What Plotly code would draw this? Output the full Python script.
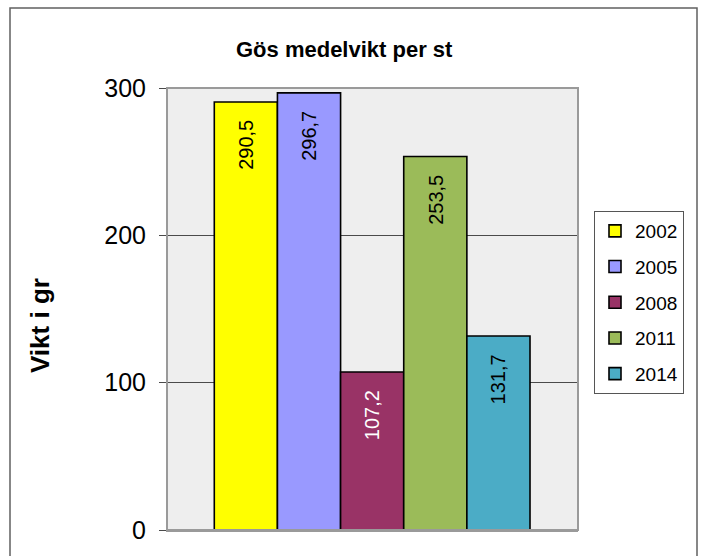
import plotly.graph_objects as go

# Average weight per fish (grams) by survey year
years = ["2002", "2005", "2008", "2011", "2014"]
weights = [290.5, 296.7, 107.2, 253.5, 131.7]
colors = ["#FFFF00", "#9999FF", "#993366", "#9BBB59", "#4BACC6"]
label_colors = ["black", "black", "white", "black", "black"]
y_ticks = [0, 100, 200, 300]

FONT = "Liberation Sans, Arial, sans-serif"

fig = go.Figure()
for i, (yr, w, c) in enumerate(zip(years, weights, colors)):
    fig.add_trace(go.Bar(
        x=[i], y=[w], width=1, name=yr, legendgroup=yr,
        marker=dict(color=c, line=dict(color="black", width=1.6)),
        hoverinfo="y",
    ))

# value labels, rotated, just inside the top of each bar
annotations = []
for i, (w, tc) in enumerate(zip(weights, label_colors)):
    annotations.append(dict(
        x=i, y=w, xref="x", yref="y", yshift=-43,
        text=f"{w:.1f}".replace(".", ","), showarrow=False,
        textangle=-90, yanchor="middle", xanchor="center",
        font=dict(family=FONT, size=20, color=tc),
    ))

annotations.append(dict(
    x=(344 - 167) / 411, y=(530 - 49) / 442, xref="paper", yref="paper",
    text="<b>Gös medelvikt per st</b>", showarrow=False,
    xanchor="center", yanchor="middle",
    font=dict(family=FONT, size=22, color="black"),
))
annotations.append(dict(
    x=(40 - 167) / 411, y=(530 - 326) / 442, xref="paper", yref="paper",
    text="<b>Vikt i gr</b>", showarrow=False, textangle=-90,
    xanchor="center", yanchor="middle",
    font=dict(family=FONT, size=26, color="black"),
))

shapes = [
    # plot area frame
    dict(type="rect", xref="paper", yref="paper", x0=0, y0=0, x1=1, y1=1,
         line=dict(color="#9A9A9A", width=2), layer="above"),
    # chart border
    dict(type="rect", xref="paper", yref="paper",
         x0=(10 - 167) / 411, x1=(697 - 167) / 411,
         y0=(530 - 570) / 442, y1=(530 - 8) / 442,
         line=dict(color="#606060", width=1.5), layer="above"),
]

fig.update_layout(
    width=703, height=556,
    margin=dict(l=167, r=125, t=88, b=26),
    paper_bgcolor="white", plot_bgcolor="#EEEEEE",
    barmode="overlay", showlegend=True,
    font=dict(family=FONT, color="black"),
    annotations=annotations, shapes=shapes,
    legend=dict(
        x=(594 - 167) / 411, y=(530 - 211) / 442,
        xanchor="left", yanchor="top",
        bgcolor="white", bordercolor="#555555", borderwidth=1,
        font=dict(family=FONT, size=19, color="black"),
        itemwidth=30, tracegroupgap=8,
    ),
    xaxis=dict(range=[-1.249, 5.26], showticklabels=False, showgrid=False,
               zeroline=False, showline=True, linecolor="#9A9A9A", linewidth=2,
               ticks="", fixedrange=True),
    yaxis=dict(range=[0, 300], tickvals=y_ticks, ticktext=[str(t) for t in y_ticks],
               showgrid=True, gridcolor="#4A4A4A", gridwidth=1,
               zeroline=False, showline=True, linecolor="#4A4A4A", linewidth=1,
               ticks="outside", ticklen=7, tickcolor="#4A4A4A",
               ticklabelstandoff=8,
               tickfont=dict(family=FONT, size=25, color="black")),
)

fig.write_html("out.html")
